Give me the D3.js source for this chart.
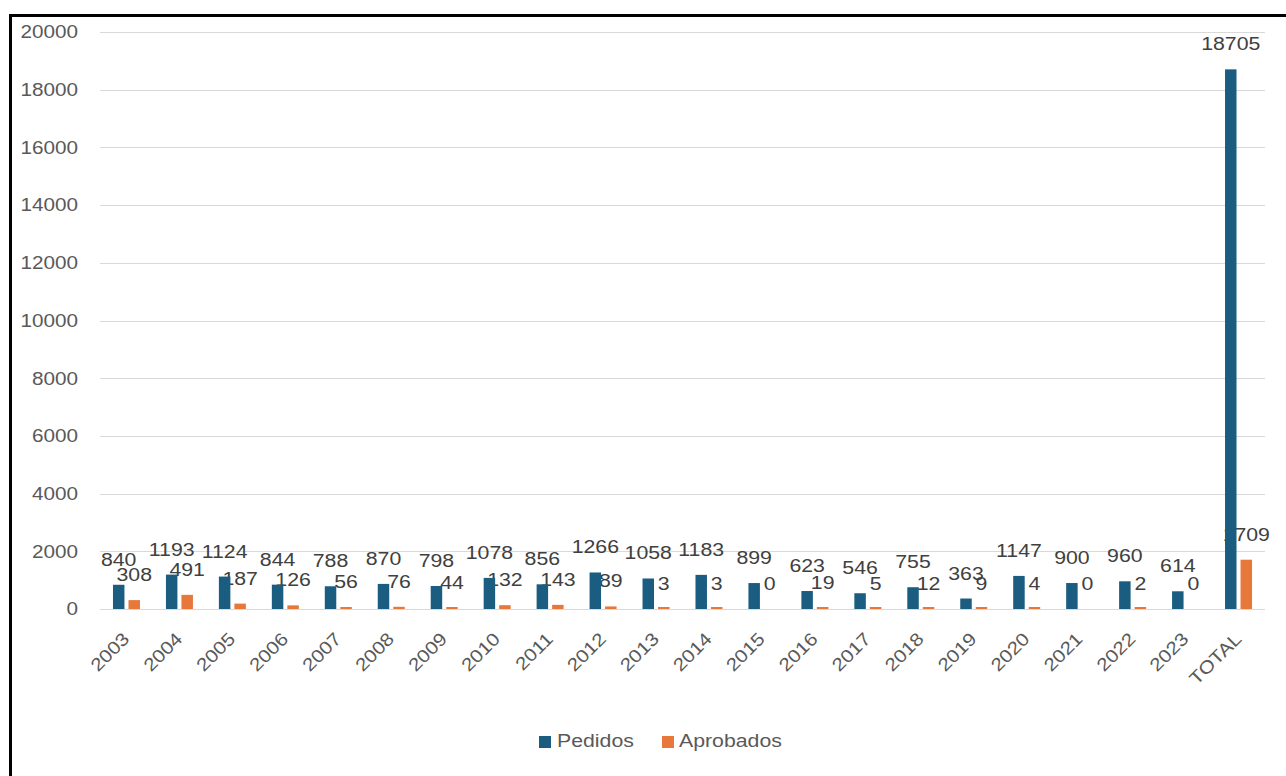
<!DOCTYPE html>
<html>
<head>
<meta charset="utf-8">
<script src="https://cdn.jsdelivr.net/npm/d3@7"></script>
<style>
  html, body { margin: 0; padding: 0; background: #ffffff; }
  svg { display: block; }
  text { font-family: "Liberation Sans", Arial, sans-serif; }
</style>
</head>
<body>
<svg id="chart" width="1286" height="776"></svg>
<script>
// ---- data ----
const categories = ["2003","2004","2005","2006","2007","2008","2009","2010","2011","2012","2013","2014","2015","2016","2017","2018","2019","2020","2021","2022","2023","TOTAL"];
const pedidos    = [840,1193,1124,844,788,870,798,1078,856,1266,1058,1183,899,623,546,755,363,1147,900,960,614,18705];
const aprobados  = [308,491,187,126,56,76,44,132,143,89,3,3,0,19,5,12,9,4,0,2,0,1709];
const seriesNames = ["Pedidos","Aprobados"];
const yTicks = [0,2000,4000,6000,8000,10000,12000,14000,16000,18000,20000];

// ---- layout / style ----
const colors = { Pedidos: "#1b5d80", Aprobados: "#e8773a" };
const SX = 1.15; // horizontal glyph stretch seen in the reference
const plot = { left: 100, right: 1265, top: 32, bottom: 609 };

const svg = d3.select("#chart");

// border (top + left visible)
svg.append("rect")
  .attr("x", 10.5).attr("y", 15.5)
  .attr("width", 1400).attr("height", 900)
  .attr("fill", "#ffffff")
  .attr("stroke", "#000").attr("stroke-width", 3);

const x0 = d3.scaleBand().domain(categories).range([plot.left, plot.right]).paddingInner(0).paddingOuter(0);
const innerPad = (x0.bandwidth() - 27) / 2;
const x1 = d3.scaleBand().domain(seriesNames)
  .range([innerPad, x0.bandwidth() - innerPad]).paddingInner(0.26).paddingOuter(0);
const y = d3.scaleLinear().domain([0, 20000]).range([plot.bottom, plot.top]);

// gridlines
svg.append("g").selectAll("line").data(yTicks).join("line")
  .attr("x1", plot.left).attr("x2", plot.right)
  .attr("y1", d => Math.round(y(d)) + 0.5).attr("y2", d => Math.round(y(d)) + 0.5)
  .attr("stroke", "#d9d9d9").attr("stroke-width", 1);

// y axis labels
const fmt = d3.format("d");
svg.append("g").selectAll("text").data(yTicks).join("text")
  .attr("transform", d => `translate(78,${y(d)}) scale(${SX},1)`)
  .attr("text-anchor", "end")
  .attr("dy", "0.35em")
  .attr("font-size", "18px")
  .attr("fill", "#595959")
  .text(d => fmt(d));

// x axis labels (rotated)
svg.append("g").selectAll("text").data(categories).join("text")
  .attr("transform", d => `translate(${x0(d) + x0.bandwidth() / 2 + 4},${plot.bottom + 31}) rotate(-45) scale(${SX},1)`)
  .attr("text-anchor", "end")
  .attr("font-size", "18px")
  .attr("fill", "#595959")
  .text(d => d);

// build rows
const rows = categories.map((c, i) => ({ cat: c, values: [
  { key: "Pedidos", value: pedidos[i] },
  { key: "Aprobados", value: aprobados[i] }
]}));

const groups = svg.append("g").selectAll("g").data(rows).join("g")
  .attr("transform", d => `translate(${x0(d.cat)},0)`);

// data labels (drawn beneath bars, as in reference)
groups.selectAll("text").data(d => d.values).join("text")
  .attr("transform", d => `translate(${x1(d.key) + x1.bandwidth() / 2},${y(d.value) - 19}) scale(${SX},1)`)
  .attr("text-anchor", "middle")
  .attr("font-size", "18.5px")
  .attr("fill", "#404040")
  .text(d => d.value);

// bars
groups.selectAll("rect").data(d => d.values).join("rect")
  .attr("x", d => x1(d.key))
  .attr("width", x1.bandwidth())
  .attr("y", d => d.value > 0 ? Math.min(y(d.value), plot.bottom - 2) : plot.bottom)
  .attr("height", d => d.value > 0 ? Math.max(plot.bottom - y(d.value), 2) : 0)
  .attr("fill", d => colors[d.key]);

// legend
const legendItems = [
  { key: "Pedidos", sx: 539, tx: 557 },
  { key: "Aprobados", sx: 662, tx: 679 }
];
const lg = svg.append("g");
lg.selectAll("rect").data(legendItems).join("rect")
  .attr("x", d => d.sx).attr("y", 736).attr("width", 12).attr("height", 12)
  .attr("fill", d => colors[d.key]);
lg.selectAll("text").data(legendItems).join("text")
  .attr("transform", d => `translate(${d.tx},747) scale(${SX},1)`)
  .attr("font-size", "18.5px")
  .attr("fill", "#595959")
  .text(d => d.key);
</script>
</body>
</html>
